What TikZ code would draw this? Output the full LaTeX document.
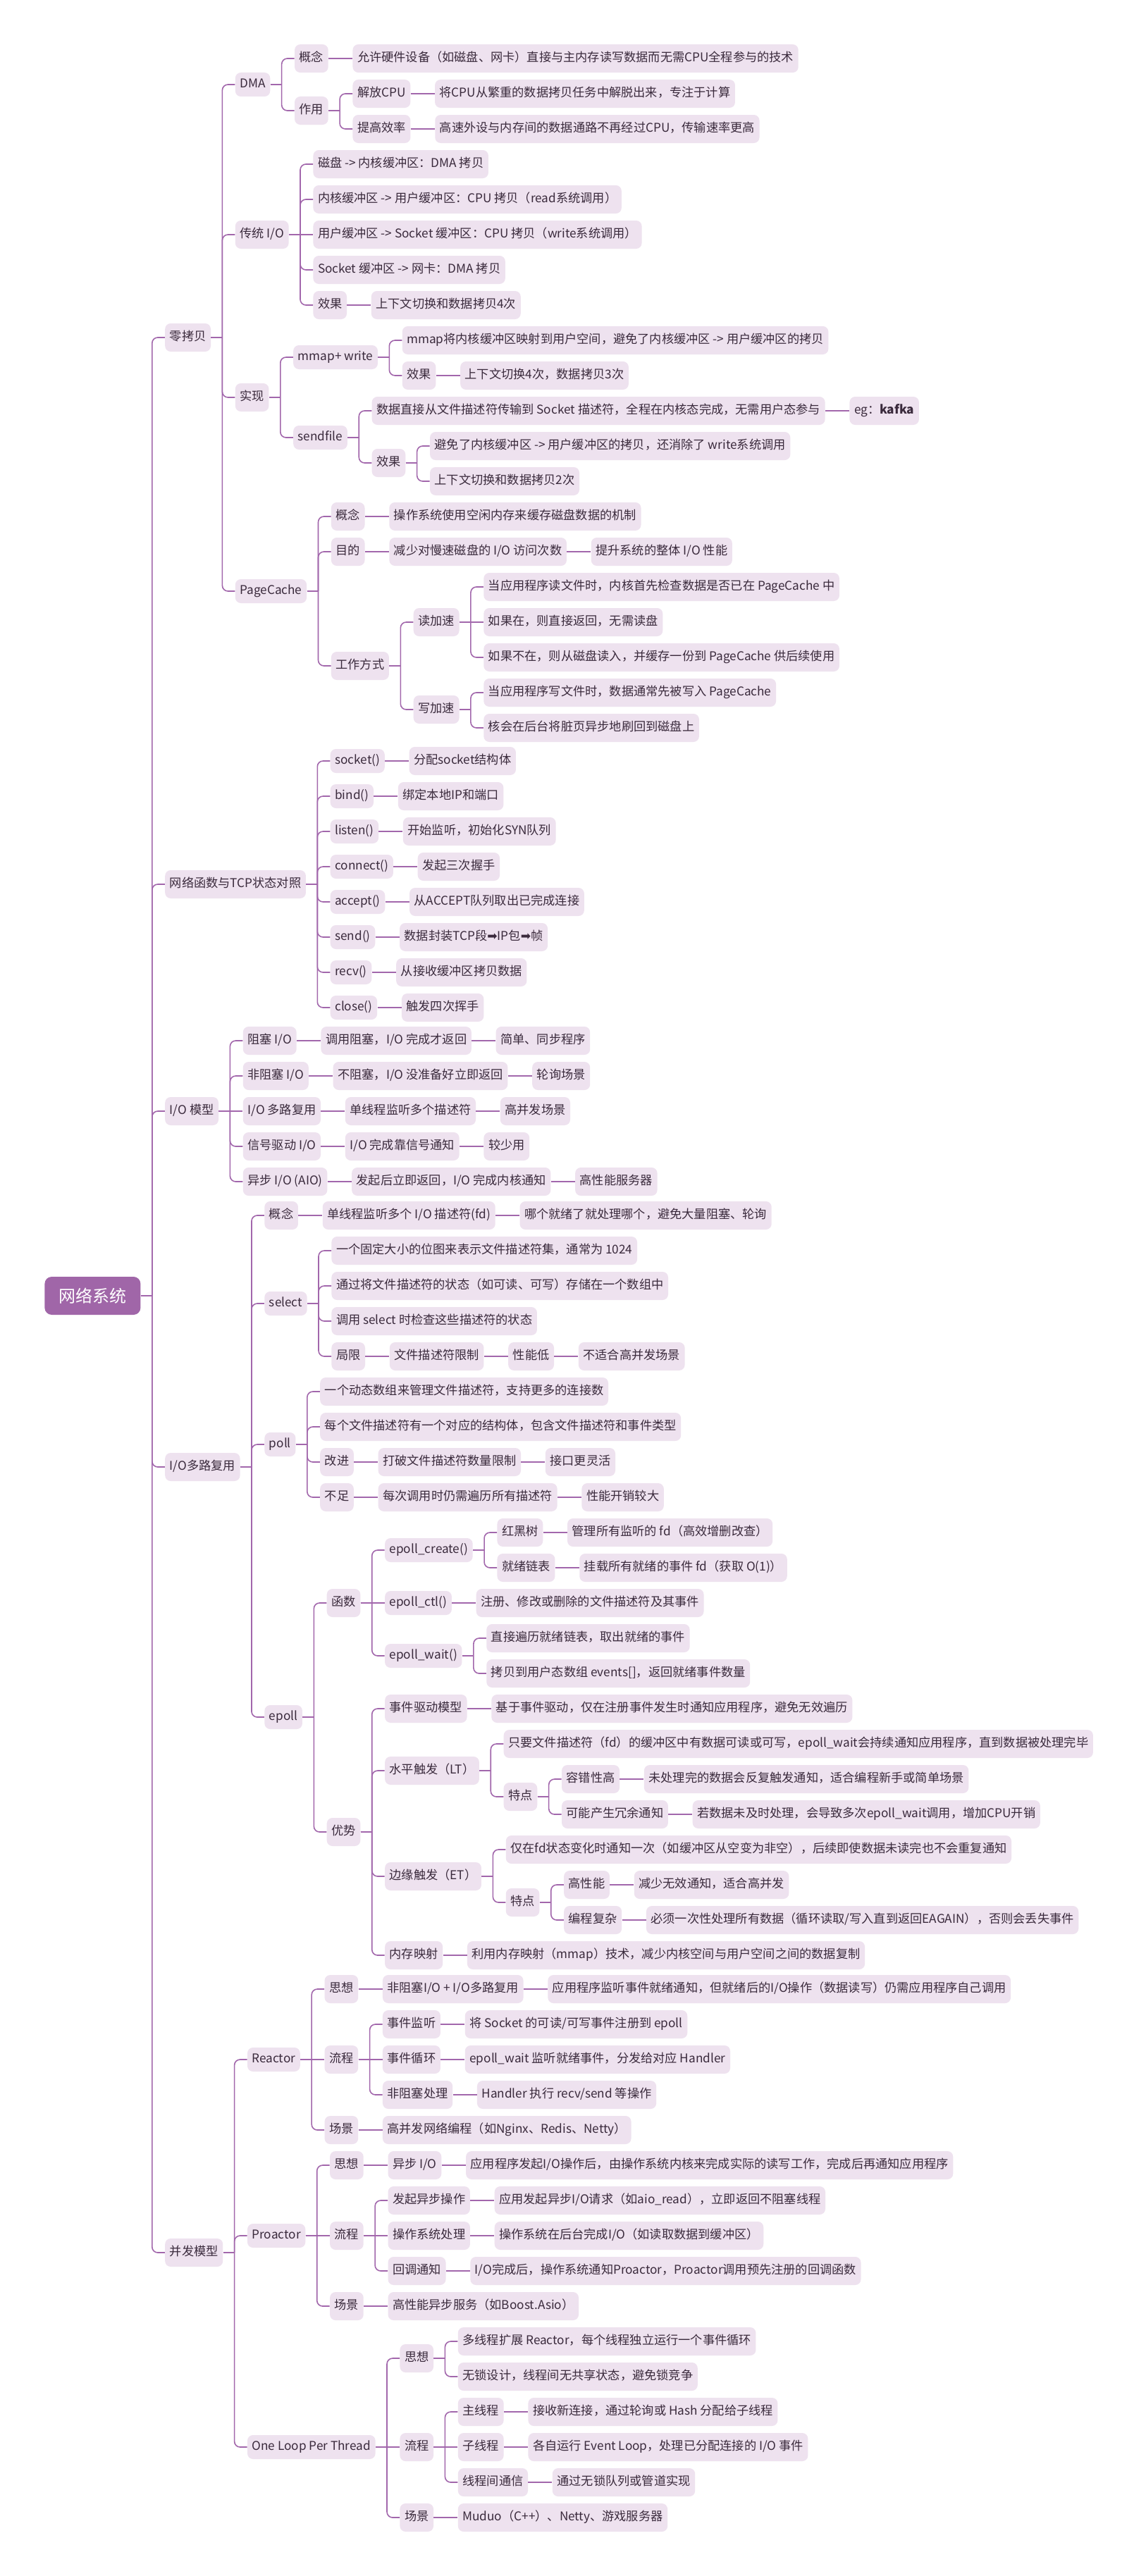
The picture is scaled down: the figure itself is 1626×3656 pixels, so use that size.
\documentclass[tikz,border=0pt]{standalone}
\usepackage{fontspec}
\setmainfont{Noto Sans CJK SC}
\newfontfamily\djv{DejaVu Sans}
\definecolor{lc}{HTML}{A267AC}
\definecolor{bf}{HTML}{EEE2EF}
\definecolor{rf}{HTML}{A066A8}
\definecolor{tx}{HTML}{3A2A3C}
\tikzset{
  box/.style={fill=bf, rounded corners=4pt, inner xsep=3.3pt, inner ysep=0pt,
    text height=6.5pt, text depth=1.7pt, minimum height=20pt, text=tx,
    font=\fontsize{8.6pt}{10.5pt}\selectfont},
  lat/.style={minimum height=17pt},
  rootbox/.style={fill=rf, rounded corners=5pt, inner xsep=10pt, inner ysep=0pt,
    minimum height=27pt, text=white, font=\fontsize{12pt}{14pt}\selectfont},
  tline/.style={draw=lc, line width=1.4pt},
  bline/.style={draw=lc, line width=0.8pt, rounded corners=4pt},
}
% bracket child: opts, name, parent, y, text
\newcommand\mmb[5][]{%
  \path (#3.east) ++(34,0) coordinate (t#2);
  \coordinate (u#2) at (0,#4);
  \node[box,anchor=west,#1] (#2) at (t#2 |- u#2) {#5};
  \draw[tline] (#3.east) -- ++(16,0);
  \draw[bline] (#3.east) ++(16,0) |- (#2.west);
}
% straight child at parent's height: opts, name, parent, text
\newcommand\mms[4][]{%
  \path (#3.east) ++(34,0) coordinate (t#2);
  \node[box,anchor=west,#1] (#2) at (t#2) {#4};
  \draw[tline] (#3.east) -- (#2.west);
}
\begin{document}
\begin{tikzpicture}[x=0.5pt,y=-0.5pt]
\fill[white] (0,0) rectangle (1626,3656);
\useasboundingbox (0,0) rectangle (1626,3656);
\node[rootbox,anchor=west] (R) at (63,1839) {网络系统};
% ---------- 零拷贝
\mmb{A}{R}{479}{零拷贝}
\mmb[lat]{A1}{A}{120}{DMA}
\mmb{A11}{A1}{83}{概念}
\mms{A111}{A11}{允许硬件设备（如磁盘、网卡）直接与主内存读写数据而无需CPU全程参与的技术}
\mmb{A12}{A1}{157}{作用}
\mmb{A121}{A12}{133}{解放CPU}
\mms{A1211}{A121}{将CPU从繁重的数据拷贝任务中解脱出来，专注于计算}
\mmb{A122}{A12}{183}{提高效率}
\mms{A1221}{A122}{高速外设与内存间的数据通路不再经过CPU，传输速率更高}
\mmb{A2}{A}{333}{传统 I/O}
\mmb{A21}{A2}{233}{磁盘 -> 内核缓冲区：DMA 拷贝}
\mmb{A22}{A2}{283}{内核缓冲区 -> 用户缓冲区：CPU 拷贝（read系统调用）}
\mms{A23}{A2}{用户缓冲区 -> Socket 缓冲区：CPU 拷贝（write系统调用）}
\mmb{A24}{A2}{383}{Socket 缓冲区 -> 网卡：DMA 拷贝}
\mmb{A25}{A2}{433}{效果}
\mms{A251}{A25}{上下文切换和数据拷贝4次}
\mmb{A3}{A}{564}{实现}
\mmb[lat]{A31}{A3}{507}{mmap+ write}
\mmb{A311}{A31}{483}{mmap将内核缓冲区映射到用户空间，避免了内核缓冲区 -> 用户缓冲区的拷贝}
\mmb{A312}{A31}{533}{效果}
\mms{A3121}{A312}{上下文切换4次，数据拷贝3次}
\mmb[lat]{A32}{A3}{621}{sendfile}
\mmb{A321}{A32}{583}{数据直接从文件描述符传输到 Socket 描述符，全程在内核态完成，无需用户态参与}
\mms{A3211}{A321}{eg：\textbf{kafka}}
\mmb{A322}{A32}{657}{效果}
\mmb{A3221}{A322}{633}{避免了内核缓冲区 -> 用户缓冲区的拷贝，还消除了 write系统调用}
\mmb{A3222}{A322}{683}{上下文切换和数据拷贝2次}
\mmb[lat]{A4}{A}{839}{PageCache}
\mmb{A41}{A4}{733}{概念}
\mms{A411}{A41}{操作系统使用空闲内存来缓存磁盘数据的机制}
\mmb{A42}{A4}{783}{目的}
\mms{A421}{A42}{减少对慢速磁盘的 I/O 访问次数}
\mms{A422}{A421}{提升系统的整体 I/O 性能}
\mmb{A43}{A4}{945}{工作方式}
\mmb{A431}{A43}{883}{读加速}
\mmb{A4311}{A431}{833}{当应用程序读文件时，内核首先检查数据是否已在 PageCache 中}
\mms{A4312}{A431}{如果在，则直接返回，无需读盘}
\mmb{A4313}{A431}{933}{如果不在，则从磁盘读入，并缓存一份到 PageCache 供后续使用}
\mmb{A432}{A43}{1007}{写加速}
\mmb{A4321}{A432}{983}{当应用程序写文件时，数据通常先被写入 PageCache}
\mmb{A4322}{A432}{1033}{核会在后台将脏页异步地刷回到磁盘上}
% ---------- 网络函数
\mmb{B}{R}{1255}{网络函数与TCP状态对照}
\mmb[lat]{B1}{B}{1080}{socket()} \mms{B11}{B1}{分配socket结构体}
\mmb[lat]{B2}{B}{1130}{bind()} \mms{B21}{B2}{绑定本地IP和端口}
\mmb[lat]{B3}{B}{1180}{listen()} \mms{B31}{B3}{开始监听，初始化SYN队列}
\mmb[lat]{B4}{B}{1230}{connect()} \mms{B41}{B4}{发起三次握手}
\mmb[lat]{B5}{B}{1280}{accept()} \mms{B51}{B5}{从ACCEPT队列取出已完成连接}
\mmb[lat]{B6}{B}{1330}{send()} \mms{B61}{B6}{数据封装TCP段{\djv ➡}IP包{\djv ➡}帧}
\mmb[lat]{B7}{B}{1380}{recv()} \mms{B71}{B7}{从接收缓冲区拷贝数据}
\mmb[lat]{B8}{B}{1430}{close()} \mms{B81}{B8}{触发四次挥手}
% ---------- I/O 模型
\mmb{C}{R}{1577}{I/O 模型}
\mmb{C1}{C}{1477}{阻塞 I/O} \mms{C11}{C1}{调用阻塞，I/O 完成才返回} \mms{C12}{C11}{简单、同步程序}
\mmb{C2}{C}{1527}{非阻塞 I/O} \mms{C21}{C2}{不阻塞，I/O 没准备好立即返回} \mms{C22}{C21}{轮询场景}
\mms{C3}{C}{I/O 多路复用} \mms{C31}{C3}{单线程监听多个描述符} \mms{C32}{C31}{高并发场景}
\mmb{C4}{C}{1627}{信号驱动 I/O} \mms{C41}{C4}{I/O 完成靠信号通知} \mms{C42}{C41}{较少用}
\mmb{C5}{C}{1677}{异步 I/O (AIO)} \mms{C51}{C5}{发起后立即返回，I/O 完成内核通知} \mms{C52}{C51}{高性能服务器}
% ---------- I/O多路复用
\mmb{D}{R}{2082}{I/O多路复用}
\mmb{D1}{D}{1725}{概念} \mms{D11}{D1}{单线程监听多个 I/O 描述符(fd)} \mms{D12}{D11}{哪个就绪了就处理哪个，避免大量阻塞、轮询}
\mmb[lat]{D2}{D}{1850}{select}
\mmb{D21}{D2}{1775}{一个固定大小的位图来表示文件描述符集，通常为 1024}
\mmb{D22}{D2}{1825}{通过将文件描述符的状态（如可读、可写）存储在一个数组中}
\mmb{D23}{D2}{1875}{调用 select 时检查这些描述符的状态}
\mmb{D24}{D2}{1925}{局限} \mms{D241}{D24}{文件描述符限制} \mms{D242}{D241}{性能低} \mms{D243}{D242}{不适合高并发场景}
\mmb[lat]{D3}{D}{2050}{poll}
\mmb{D31}{D3}{1975}{一个动态数组来管理文件描述符，支持更多的连接数}
\mmb{D32}{D3}{2025}{每个文件描述符有一个对应的结构体，包含文件描述符和事件类型}
\mmb{D33}{D3}{2075}{改进} \mms{D331}{D33}{打破文件描述符数量限制} \mms{D332}{D331}{接口更灵活}
\mmb{D34}{D3}{2125}{不足} \mms{D341}{D34}{每次调用时仍需遍历所有描述符} \mms{D342}{D341}{性能开销较大}
\mmb[lat]{D4}{D}{2437}{epoll}
\mmb{D41}{D4}{2275}{函数}
\mmb[lat]{D411}{D41}{2200}{epoll\_create()}
\mmb{D4111}{D411}{2175}{红黑树} \mms{D4112}{D4111}{管理所有监听的 fd（高效增删改查）}
\mmb{D4113}{D411}{2225}{就绪链表} \mms{D4114}{D4113}{挂载所有就绪的事件 fd（获取 O(1)）}
\mms[lat]{D412}{D41}{epoll\_ctl()} \mms{D4121}{D412}{注册、修改或删除的文件描述符及其事件}
\mmb[lat]{D413}{D41}{2350}{epoll\_wait()}
\mmb{D4131}{D413}{2325}{直接遍历就绪链表，取出就绪的事件}
\mmb{D4132}{D413}{2375}{拷贝到用户态数组 events[]，返回就绪事件数量}
\mmb{D42}{D4}{2600}{优势}
\mmb{D421}{D42}{2425}{事件驱动模型} \mms{D4211}{D421}{基于事件驱动，仅在注册事件发生时通知应用程序，避免无效遍历}
\mmb{D422}{D42}{2513}{水平触发（LT）}
\mmb{D4221}{D422}{2475}{只要文件描述符（fd）的缓冲区中有数据可读或可写，epoll\_wait会持续通知应用程序，直到数据被处理完毕}
\mmb{D4222}{D422}{2550}{特点}
\mmb{D42221}{D4222}{2525}{容错性高} \mms{D42222}{D42221}{未处理完的数据会反复触发通知，适合编程新手或简单场景}
\mmb{D42223}{D4222}{2575}{可能产生冗余通知} \mms{D42224}{D42223}{若数据未及时处理，会导致多次epoll\_wait调用，增加CPU开销}
\mmb{D423}{D42}{2663}{边缘触发（ET）}
\mmb{D4231}{D423}{2625}{仅在fd状态变化时通知一次（如缓冲区从空变为非空），后续即使数据未读完也不会重复通知}
\mmb{D4232}{D423}{2700}{特点}
\mmb{D42321}{D4232}{2675}{高性能} \mms{D42322}{D42321}{减少无效通知，适合高并发}
\mmb{D42323}{D4232}{2725}{编程复杂} \mms{D42324}{D42323}{必须一次性处理所有数据（循环读取/写入直到返回EAGAIN），否则会丢失事件}
\mmb{D424}{D42}{2775}{内存映射} \mms{D4241}{D424}{利用内存映射（mmap）技术，减少内核空间与用户空间之间的数据复制}
% ---------- 并发模型
\mmb{E}{R}{3197}{并发模型}
\mmb[lat]{E1}{E}{2923}{Reactor}
\mmb{E11}{E1}{2823}{思想} \mms{E111}{E11}{非阻塞I/O + I/O多路复用} \mms{E112}{E111}{应用程序监听事件就绪通知，但就绪后的I/O操作（数据读写）仍需应用程序自己调用}
\mms{E12}{E1}{流程}
\mmb{E121}{E12}{2873}{事件监听} \mms{E1211}{E121}{将 Socket 的可读/可写事件注册到 epoll}
\mms{E122}{E12}{事件循环} \mms{E1221}{E122}{epoll\_wait 监听就绪事件，分发给对应 Handler}
\mmb{E123}{E12}{2973}{非阻塞处理} \mms{E1231}{E123}{Handler 执行 recv/send 等操作}
\mmb{E13}{E1}{3023}{场景} \mms{E131}{E13}{高并发网络编程（如Nginx、Redis、Netty）}
\mmb[lat]{E2}{E}{3173}{Proactor}
\mmb{E21}{E2}{3073}{思想} \mms{E211}{E21}{异步 I/O} \mms{E212}{E211}{应用程序发起I/O操作后，由操作系统内核来完成实际的读写工作，完成后再通知应用程序}
\mms{E22}{E2}{流程}
\mmb{E221}{E22}{3123}{发起异步操作} \mms{E2211}{E221}{应用发起异步I/O请求（如aio\_read），立即返回不阻塞线程}
\mms{E222}{E22}{操作系统处理} \mms{E2221}{E222}{操作系统在后台完成I/O（如读取数据到缓冲区）}
\mmb{E223}{E22}{3223}{回调通知} \mms{E2231}{E223}{I/O完成后，操作系统通知Proactor，Proactor调用预先注册的回调函数}
\mmb{E23}{E2}{3273}{场景} \mms{E231}{E23}{高性能异步服务（如Boost.Asio）}
\mmb[lat]{E3}{E}{3473}{One Loop Per Thread}
\mmb{E31}{E3}{3347}{思想}
\mmb{E311}{E31}{3323}{多线程扩展 Reactor，每个线程独立运行一个事件循环}
\mmb{E312}{E31}{3373}{无锁设计，线程间无共享状态，避免锁竞争}
\mms{E32}{E3}{流程}
\mmb{E321}{E32}{3423}{主线程} \mms{E3211}{E321}{接收新连接，通过轮询或 Hash 分配给子线程}
\mms{E322}{E32}{子线程} \mms{E3221}{E322}{各自运行 Event Loop，处理已分配连接的 I/O 事件}
\mmb{E323}{E32}{3523}{线程间通信} \mms{E3231}{E323}{通过无锁队列或管道实现}
\mmb{E33}{E3}{3573}{场景} \mms{E331}{E33}{Muduo（C++）、Netty、游戏服务器}
\end{tikzpicture}
\end{document}
